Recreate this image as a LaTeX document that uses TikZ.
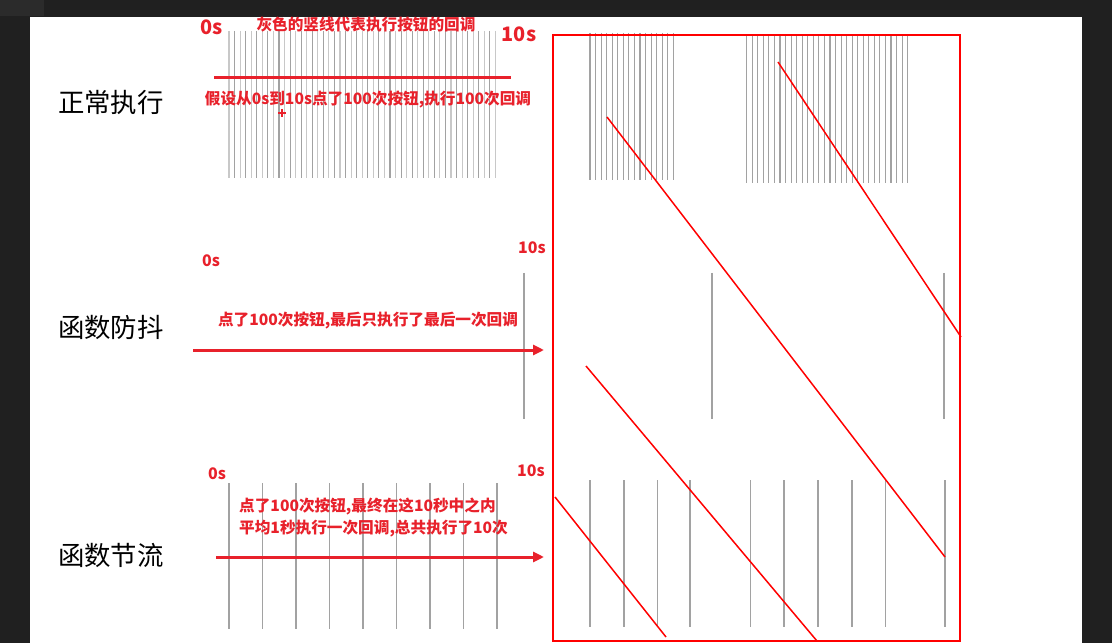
\documentclass[tikz,border=0pt]{standalone}
\usepackage{fontspec}
\setmainfont{Noto Sans CJK SC}
\usetikzlibrary{arrows.meta}
\definecolor{edgedark}{HTML}{202020}
\definecolor{tabdark}{HTML}{2B2B2B}
\definecolor{notered}{HTML}{E8212B}
\definecolor{boxred}{HTML}{FF0000}
\definecolor{cbdark}{HTML}{A2A2A2}
\definecolor{cblight}{HTML}{C8C8C8}
\tikzset{
  rowlabel/.style={font=\fontsize{26.5}{30}\selectfont, text=black, inner sep=0pt},
  redtext/.style={font=\fontsize{15.7}{19}\selectfont\bfseries, text=notered, inner sep=0pt, align=left},
  bigtick/.style={font=\fontsize{20}{24}\selectfont\bfseries, text=notered, inner sep=0pt},
  smalltick/.style={font=\fontsize{16}{19}\selectfont\bfseries, text=notered, inner sep=0pt},
  cbline/.style={draw=cbdark, line width=1.1bp},
  cblite/.style={draw=cblight, line width=1.1bp},
  timeline/.style={draw=notered, line width=3bp},
  timearrow/.style={timeline, -{Triangle[length=11bp,width=10bp]}},
  markline/.style={draw=boxred, line width=1.5bp},
  markbox/.style={draw=boxred, line width=2bp}
}
\begin{document}
\begin{tikzpicture}[x=1bp,y=-1bp]
  \useasboundingbox (0,0) rectangle (1112,643);
  \fill[edgedark] (0,0) rectangle (1112,643);
  \fill[tabdark] (0,0) rectangle (44,16);
  \fill[white] (30,17) rectangle (1082,643);

  \foreach \i in {0,2,...,48}
    \draw[cblite] ({229+\i*5.55},31) -- ({229+\i*5.55},178);
  \foreach \i in {1,3,...,47}
    \draw[cbline] ({229+\i*5.55},31) -- ({229+\i*5.55},178);
  \foreach \i in {0,...,15}
    \draw[cbline] ({590+\i*5.55},33) -- ({590+\i*5.55},180);
  \foreach \i in {0,...,29}
    \draw[cbline] ({746.7+\i*5.55},35) -- ({746.7+\i*5.55},183);

  \foreach \x in {524,712,944}
    \draw[cbline] (\x,273) -- (\x,419);

  \foreach \i in {0,...,8}
    \draw[cbline] ({229+\i*33.5},483) -- ({229+\i*33.5},629);
  \foreach \x in {590,624,657.5,690,750.6,784,818,852,885.6,945}
    \draw[cbline] (\x,480) -- (\x,627);

  \node[rowlabel] (normal) at (111,102) {正常执行};
  \node[bigtick] (n0) at (212,27) {0s};
  \node[bigtick] (n10) at (519,34) {10s};
  \node[redtext] (ntitle) at (366,25) {灰色的竖线代表执行按钮的回调};
  \node[redtext] (nnote) at (368,100) {假设从0s到10s点了100次按钮,执行100次回调};
  \draw[notered, line width=2bp] (278,113) -- (286,113) (282,109) -- (282,117);
  \coordinate (ns) at (214,78);
  \coordinate (ne) at (511,78);
  \draw[timeline] (ns) -- (ne);

  \node[rowlabel] (debounce) at (111,327) {函数防抖};
  \node[smalltick] (d0) at (211,261) {0s};
  \node[smalltick] (d10) at (532,248) {10s};
  \node[redtext] (dnote) at (368,321) {点了100次按钮,最后只执行了最后一次回调};
  \coordinate (ds) at (193,350);
  \coordinate (de) at (544,350);
  \draw[timearrow] (ds) -- (de);

  \node[rowlabel] (throttle) at (111,555) {函数节流};
  \node[smalltick] (t0) at (217,474) {0s};
  \node[smalltick] (t10) at (531,471) {10s};
  \node[redtext, anchor=west] (tnote) at (239,517) {点了100次按钮,最终在这10秒中之内\\[3bp]平均1秒执行一次回调,总共执行了10次};
  \coordinate (ts) at (216,557);
  \coordinate (te) at (544,557);
  \draw[timearrow] (ts) -- (te);

  \draw[markbox] (553,35) rectangle (960,641);
  \draw[markline] (607,117) -- (945,557);
  \draw[markline] (778,62) -- (961,337);
  \draw[markline] (586,366) -- (817,641);
  \draw[markline] (555,497) -- (666,637);
\end{tikzpicture}
\end{document}
